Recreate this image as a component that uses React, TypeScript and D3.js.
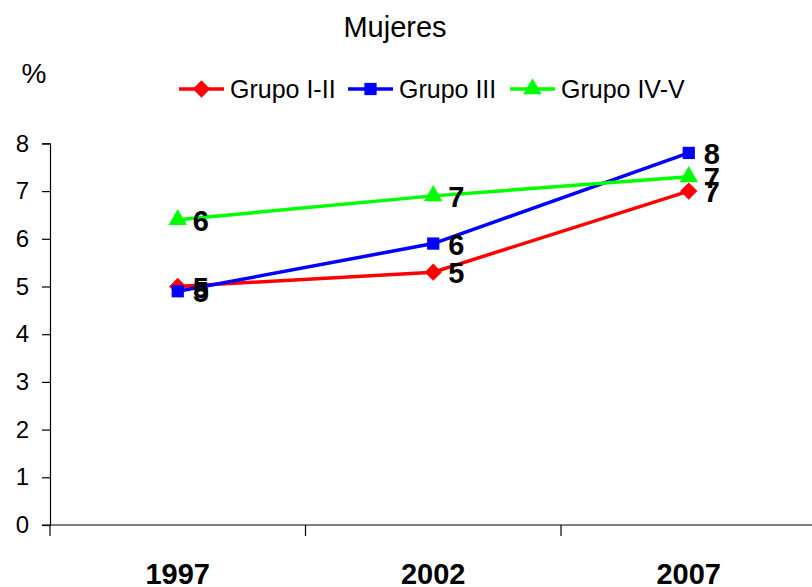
import React, { useRef, useEffect } from "react";
import * as d3 from "d3";

const years = ["1997", "2002", "2007"];
const grupoI_II = [5.0, 5.3, 7.0];
const grupoIII = [4.9, 5.9, 7.8];
const grupoIV_V = [6.4, 6.9, 7.3];
const yTicks = [0, 1, 2, 3, 4, 5, 6, 7, 8];

const series = [
  { name: "Grupo I-II", values: grupoI_II, color: "#ff0000", symbol: d3.symbolSquare, rotate: 45, size: 150 },
  { name: "Grupo III", values: grupoIII, color: "#0000ff", symbol: d3.symbolSquare, rotate: 0, size: 150 },
  { name: "Grupo IV-V", values: grupoIV_V, color: "#00ff00", symbol: d3.symbolTriangle, rotate: 0, size: 150 },
];

const FONT = "'Liberation Sans', Arial, sans-serif";

export default function App() {
  const ref = useRef<SVGSVGElement | null>(null);

  useEffect(() => {
    const width = 812;
    const height = 587;
    const svg = d3.select(ref.current);
    svg.selectAll("*").remove();
    svg.attr("width", width).attr("height", height);

    const left = 50;
    const x = d3
      .scaleBand()
      .domain(years)
      .range([left, left + 255.5 * years.length]);
    const y = d3.scaleLinear().domain([0, 8]).range([525, 143.4]);

    // Title
    svg
      .append("text")
      .attr("x", 395)
      .attr("y", 37)
      .attr("text-anchor", "middle")
      .style("font-family", FONT)
      .style("font-size", "29px")
      .text("Mujeres");

    svg
      .append("text")
      .attr("x", 34)
      .attr("y", 83)
      .attr("text-anchor", "middle")
      .style("font-family", FONT)
      .style("font-size", "28px")
      .text("%");

    // Y axis
    const yAxis = svg
      .append("g")
      .attr("transform", `translate(${left},0)`)
      .call(
        d3
          .axisLeft(y)
          .tickValues(yTicks)
          .tickSize(8)
          .tickPadding(13)
          .tickFormat(d3.format("d")) as any,
      );
    yAxis.select(".domain").attr("stroke", "#000").attr("stroke-width", 1.2);
    yAxis.selectAll("line").attr("stroke", "#000").attr("stroke-width", 1.2);
    yAxis
      .selectAll("text")
      .style("font-family", FONT)
      .style("font-size", "24px")
      .attr("fill", "#000");

    // X axis
    const xAxisG = svg.append("g").attr("transform", `translate(0,${y(0)})`);
    xAxisG
      .append("line")
      .attr("x1", left - 8)
      .attr("x2", width)
      .attr("stroke", "#000")
      .attr("stroke-width", 1.2);
    const bounds = [left, ...years.map((d) => (x(d) as number) + x.bandwidth())];
    xAxisG
      .selectAll(".xt")
      .data(bounds)
      .enter()
      .append("line")
      .attr("x1", (d) => d)
      .attr("x2", (d) => d)
      .attr("y1", 0)
      .attr("y2", 11)
      .attr("stroke", "#000")
      .attr("stroke-width", 1.2);
    xAxisG
      .selectAll(".xl")
      .data(years)
      .enter()
      .append("text")
      .attr("x", (d) => (x(d) as number) + x.bandwidth() / 2)
      .attr("y", 59)
      .attr("text-anchor", "middle")
      .style("font-family", FONT)
      .style("font-size", "29px")
      .style("font-weight", "bold")
      .text((d) => d);

    const cx = (i: number) => (x(years[i]) as number) + x.bandwidth() / 2;

    // Lines and markers
    series.forEach((s) => {
      const line = d3
        .line<number>()
        .x((_, i) => cx(i))
        .y((d) => y(d));
      svg
        .append("path")
        .datum(s.values)
        .attr("fill", "none")
        .attr("stroke", s.color)
        .attr("stroke-width", 3.5)
        .attr("d", line);
    });

    series.forEach((s) => {
      svg
        .append("g")
        .selectAll("path")
        .data(s.values)
        .enter()
        .append("path")
        .attr("transform", (d, i) => `translate(${cx(i)},${y(d)}) rotate(${s.rotate})`)
        .attr("d", d3.symbol().type(s.symbol).size(s.size)())
        .attr("fill", s.color);
    });

    // Data labels
    series.forEach((s) => {
      svg
        .append("g")
        .selectAll("text")
        .data(s.values)
        .enter()
        .append("text")
        .attr("x", (d, i) => cx(i) + 15)
        .attr("y", (d) => y(d) + 11)
        .style("font-family", FONT)
        .style("font-size", "29px")
        .style("font-weight", "bold")
        .text((d) => String(Math.round(d)));
    });

    // Legend
    const legendX = [179, 348, 510];
    const lg = svg
      .append("g")
      .selectAll("g")
      .data(series)
      .enter()
      .append("g")
      .attr("transform", (d, i) => `translate(${legendX[i]},89)`);
    lg.append("line")
      .attr("x1", 0)
      .attr("x2", 45)
      .attr("stroke", (d) => d.color)
      .attr("stroke-width", 3.5);
    lg.append("path")
      .attr("transform", (d) => `translate(22.5,0) rotate(${d.rotate})`)
      .attr("d", (d) => d3.symbol().type(d.symbol).size(d.size)())
      .attr("fill", (d) => d.color);
    lg.append("text")
      .attr("x", 51)
      .attr("y", 9)
      .style("font-family", FONT)
      .style("font-size", "25px")
      .text((d) => d.name);
  }, []);

  return (
    <svg
      ref={ref}
      style={{ position: "absolute", left: 0, top: 0, background: "#fff" }}
    />
  );
}
